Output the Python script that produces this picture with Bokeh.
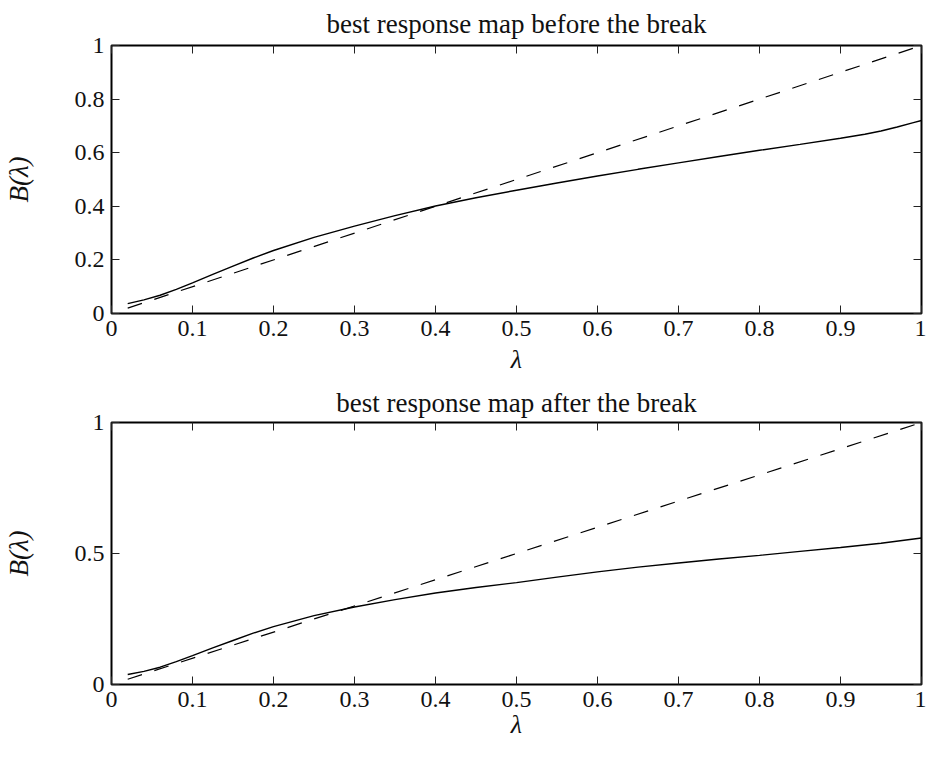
from bokeh.plotting import figure
from bokeh.models import Range1d, LinearAxis, FixedTicker
from bokeh.layouts import column
from bokeh.embed import file_html
from bokeh.resources import INLINE

# ---- data ----
lam_before = [0.02, 0.04, 0.06, 0.08, 0.10, 0.125, 0.15, 0.175, 0.20, 0.25, 0.30, 0.35,
              0.40, 0.45, 0.50, 0.55, 0.60, 0.65, 0.70, 0.75, 0.80, 0.85, 0.90, 0.93,
              0.95, 0.97, 0.99, 1.00]
br_before = [0.037, 0.051, 0.068, 0.090, 0.114, 0.146, 0.177, 0.207, 0.235, 0.284, 0.326, 0.365,
             0.401, 0.432, 0.460, 0.487, 0.513, 0.538, 0.562, 0.586, 0.609, 0.631, 0.654, 0.669,
             0.681, 0.696, 0.712, 0.720]
lam_after = [0.02, 0.04, 0.06, 0.08, 0.10, 0.125, 0.15, 0.175, 0.20, 0.25, 0.30, 0.35,
             0.40, 0.45, 0.50, 0.55, 0.60, 0.65, 0.70, 0.75, 0.80, 0.85, 0.90, 0.95, 1.00]
br_after = [0.038, 0.050, 0.066, 0.087, 0.110, 0.140, 0.168, 0.196, 0.221, 0.263, 0.296, 0.324,
            0.349, 0.370, 0.389, 0.410, 0.430, 0.448, 0.464, 0.479, 0.493, 0.508, 0.523, 0.539, 0.559]
diag_x = [0.02, 1.0]
diag_y = [0.02, 1.0]

x_ticks = [0, 0.1, 0.2, 0.3, 0.4, 0.5, 0.6, 0.7, 0.8, 0.9, 1.0]
x_tick_labels = ["0", "0.1", "0.2", "0.3", "0.4", "0.5", "0.6", "0.7", "0.8", "0.9", "1"]
top_y_ticks = [0, 0.2, 0.4, 0.6, 0.8, 1.0]
top_y_labels = ["0", "0.2", "0.4", "0.6", "0.8", "1"]
bot_y_ticks = [0, 0.5, 1.0]
bot_y_labels = ["0", "0.5", "1"]

titles = ["best response map before the break", "best response map after the break"]
x_label = "λ"
y_label = "B(λ)"

FONT = "Liberation Serif"
TICK_FS = "24px"
TITLE_FS = "27px"
LABEL_FS = "26px"


def style_axis(ax, ticks, labels, show_labels):
    ax.ticker = FixedTicker(ticks=ticks)
    ax.minor_tick_line_color = None
    ax.major_tick_in = 8
    ax.major_tick_out = 0
    ax.major_tick_line_color = "#222222"
    ax.major_tick_line_width = 1
    ax.axis_line_color = None
    ax.major_label_text_font = FONT
    ax.major_label_text_color = "#111111"
    if show_labels:
        ax.major_label_overrides = {t: l for t, l in zip(ticks, labels)}
        ax.major_label_text_font_size = TICK_FS
        ax.major_label_standoff = 7
    else:
        ax.major_label_overrides = {t: "" for t in ticks}
        ax.major_label_text_font_size = "0px"
        ax.major_label_standoff = 0


def make_panel(title, xs, ys, yticks, ylabels, frame_h, top_border, bottom_border,
               title_standoff, xlabel_standoff):
    p = figure(frame_width=810, frame_height=frame_h,
               x_range=Range1d(0, 1), y_range=Range1d(0, 1),
               output_backend="svg", toolbar_location=None,
               min_border_left=108, min_border_right=5,
               min_border_top=top_border, min_border_bottom=bottom_border,
               background_fill_color="white", border_fill_color="white")
    p.grid.visible = False
    p.outline_line_color = "black"
    p.outline_line_width = 2

    p.title.text = title
    p.title.text_font = FONT
    p.title.text_font_size = TITLE_FS
    p.title.text_font_style = "normal"
    p.title.align = "center"
    p.title.text_color = "#111111"
    p.title.standoff = title_standoff

    xa = p.xaxis[0]
    style_axis(xa, x_ticks, x_tick_labels, True)
    xa.axis_label = x_label
    xa.axis_label_text_font = FONT
    xa.axis_label_text_font_size = LABEL_FS
    xa.axis_label_text_font_style = "italic"
    xa.axis_label_text_color = "#111111"
    xa.axis_label_standoff = xlabel_standoff

    ya = p.yaxis[0]
    style_axis(ya, yticks, ylabels, True)
    ya.axis_label = y_label
    ya.axis_label_text_font = FONT
    ya.axis_label_text_font_size = "27px"
    ya.axis_label_text_font_style = "italic"
    ya.axis_label_text_color = "#111111"
    ya.axis_label_standoff = 38

    top_ax = LinearAxis()
    style_axis(top_ax, x_ticks, x_tick_labels, False)
    p.add_layout(top_ax, "above")
    right_ax = LinearAxis()
    style_axis(right_ax, yticks, ylabels, False)
    p.add_layout(right_ax, "right")

    p.line(diag_x, diag_y, line_color="black", line_width=1.2, line_dash="15 13")
    p.line(xs, ys, line_color="black", line_width=1.4)
    return p


p1 = make_panel(titles[0], lam_before, br_before, top_y_ticks, top_y_labels,
                268, 43, 68, 13, 6)
p2 = make_panel(titles[1], lam_after, br_after, bot_y_ticks, bot_y_labels,
                262, 39, 62, 9, 0)
layout = column(p1, p2, spacing=0)

open("out.html", "w").write(file_html(layout, INLINE))
